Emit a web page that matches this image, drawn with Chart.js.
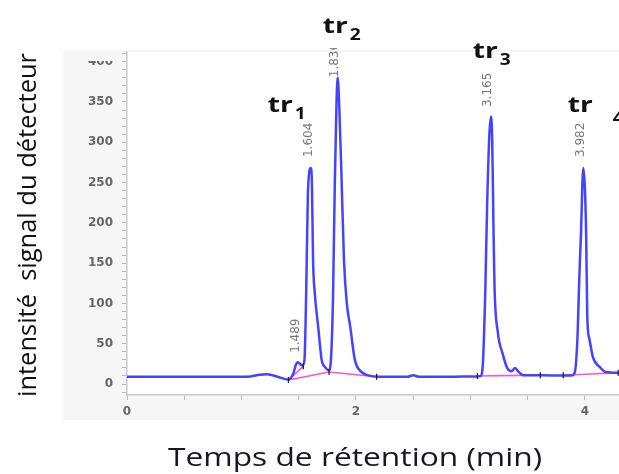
<!DOCTYPE html>
<html><head><meta charset="utf-8">
<script src="https://cdn.jsdelivr.net/npm/chart.js@4.4.1/dist/chart.umd.min.js"></script>
<style>html,body{margin:0;padding:0;background:#fff}canvas{display:block}</style>
</head><body>
<canvas id="c" width="619" height="474"></canvas>
<script>
// ---- data ----
const times  = [0,0.5,1.0,1.08,1.16,1.22,1.28,1.34,1.41,1.45,1.475,1.49,1.51,1.535,1.55,1.565,1.58,1.605,1.615,1.625,1.64,1.67,1.70,1.73,1.765,1.785,1.80,1.815,1.83,1.84,1.855,1.875,1.895,1.92,1.95,1.99,2.04,2.1,2.2,2.45,2.5,2.55,2.8,3.05,3.09,3.11,3.13,3.145,3.165,3.18,3.19,3.20,3.21,3.24,3.28,3.32,3.36,3.39,3.42,3.46,3.6,3.88,3.91,3.935,3.95,3.965,3.985,4.0,4.01,4.02,4.04,4.07,4.13,4.18,4.3];
const signal = [9,9,9,9.5,11.5,12,10.5,8,5.5,12,24,27,25,23,30,113,237,268,250,154,113,71,30,21,17,40,113,250,350,380,340,250,154,100,71,30,16,11,9,9,11,9,9,9.5,10,30,120,220,310,332,300,200,120,63,38,20,16,20,15,11,11,10.5,14,60,130,187,268,240,187,83,55,33,21,15,14];

// integration baselines (pink), null = break
const baseTimes  = [1.41,1.54,null,1.41,1.765,2.18,null,3.06,3.61,null,3.81,4.3];
const baseValues = [5,22,null,5,15,9,null,10,11,null,11,14];

// baseline start/end markers
const markTimes  = [1.41,1.54,1.765,2.18,3.06,3.61,3.81,4.29];
const markValues = [5,22,15,9,10,11,11,14];

// peak retention-time labels
const peakLabels = ['1.489','1.604','1.836','3.165','3.982'];
const peakTimes  = [1.489,1.604,1.836,3.165,3.982];
const peakLabelValues = [60,303,402,365,303];

// tr annotations
const trText   = ['tr','tr','tr','tr'];
const trSubs   = ['1','2','3','4'];
const trTimes  = [1.23,1.71,3.02,3.85];
const trValues = [338,436,405,338];

const xTitle = 'Temps de rétention (min)';
const yTitle = 'intensité  signal du détecteur';
const xTickLabels = [0,2,4];

// ---- build ----
const lineData = times.map((t,i)=>({x:t,y:signal[i]}));
const pinkData = baseTimes.map((t,i)=> t===null ? {x:NaN,y:null} : {x:t,y:baseValues[i]});
const markData = markTimes.map((t,i)=>({x:t,y:markValues[i]}));

function stretched(ctx, text, font, targetW){
  ctx.font = font;
  const w = ctx.measureText(text).width;
  return targetW ? targetW / w : 1;
}

const decor = {
  id:'decor',
  beforeDraw(chart){
    const ctx = chart.ctx, a = chart.chartArea;
    ctx.save();
    ctx.fillStyle = '#fff';
    ctx.fillRect(0,0,chart.width,chart.height);
    ctx.fillStyle = '#f6f6f6';
    ctx.fillRect(63,50,chart.width-63,370);
    ctx.fillStyle = '#fff';
    ctx.fillRect(a.left,a.top,a.right-a.left,a.bottom-a.top);
    ctx.restore();
  },
  afterDraw(chart){
    const ctx = chart.ctx, xs = chart.scales.x, ys = chart.scales.y;
    ctx.save();
    // clip top tick label like the source crop
    ctx.fillStyle = '#fff';
    ctx.fillRect(63,0,52,50);
    ctx.fillStyle = '#f6f6f6';
    ctx.fillRect(63,50,52,11);

    // peak labels (clipped at the source's top edge)
    ctx.save();
    ctx.beginPath();
    ctx.rect(0,48,chart.width,chart.height-48);
    ctx.clip();
    ctx.fillStyle = '#777';
    ctx.textAlign = 'center';
    ctx.textBaseline = 'middle';
    peakLabels.forEach((lab,i)=>{
      const px = xs.getPixelForValue(peakTimes[i]) - 2;
      const py = ys.getPixelForValue(peakLabelValues[i]);
      ctx.save();
      ctx.translate(px,py);
      ctx.rotate(-Math.PI/2);
      ctx.font = '12px "DejaVu Sans"';
      ctx.fillText(lab,0,0);
      ctx.restore();
    });
    ctx.restore();

    // tr annotations
    ctx.fillStyle = '#111';
    ctx.textAlign = 'left';
    ctx.textBaseline = 'alphabetic';
    trText.forEach((t,i)=>{
      const px = xs.getPixelForValue(trTimes[i]);
      const py = ys.getPixelForValue(trValues[i]);
      ctx.save();
      ctx.translate(px,py);
      const f = 'bold 22px "Open Sans"';
      const sx = stretched(ctx,t,f,25);
      ctx.scale(sx,1);
      ctx.fillText(t,0,0);
      const w = ctx.measureText(t).width;
      ctx.restore();
      ctx.save();
      const subX = px + w*sx + (i===3 ? 20 : 2);
      ctx.translate(subX, py + (i===3 ? 11 : 7));
      ctx.font = 'bold 16px "Open Sans"';
      ctx.scale(1.2,1);
      ctx.fillText(trSubs[i],0,0);
      ctx.restore();
    });

    // axis titles
    ctx.fillStyle = '#16162a';
    ctx.textAlign = 'center';
    ctx.save();
    ctx.translate(355,466);
    const fx = '25px "Open Sans"';
    const sxx = stretched(ctx,xTitle,fx,374);
    ctx.scale(sxx,1);
    ctx.fillText(xTitle,0,0);
    ctx.restore();

    ctx.fillStyle = '#111';
    ctx.save();
    ctx.translate(36,225);
    ctx.rotate(-Math.PI/2);
    const fy = '25px "Open Sans"';
    const syy = stretched(ctx,yTitle,fy,344);
    ctx.scale(syy,1);
    ctx.fillText(yTitle,0,0);
    ctx.restore();
    ctx.restore();
  }
};

const tickFont = {family:'"DejaVu Sans"', size:12, weight:'bold'};

new Chart(document.getElementById('c'), {
  type:'line',
  data:{datasets:[
    {data:pinkData, borderColor:'#ff4fdc', borderWidth:1.6, pointRadius:0, spanGaps:false, order:2},
    {data:lineData, borderColor:'#4444ff', borderWidth:2.5, pointRadius:0, cubicInterpolationMode:'monotone', order:1},
    {type:'scatter', data:markData, pointStyle:'line', rotation:90, radius:3, borderColor:'#222', borderWidth:1.3, order:0}
  ]},
  options:{
    responsive:false, animation:false, devicePixelRatio:1,
    layout:{autoPadding:false, padding:{left:0,right:0,top:52,bottom:54}},
    plugins:{legend:{display:false}, tooltip:{enabled:false}},
    scales:{
      x:{type:'linear', min:0, max:4.297,
        afterBuildTicks:s=>{s.ticks=s.ticks.filter(t=>Math.abs(t.value*2-Math.round(t.value*2))<1e-6 && t.value<=4.297);},
        afterFit:s=>{s.height=25; s.paddingLeft=0; s.paddingRight=0;},
        ticks:{stepSize:0.5, includeBounds:false, autoSkip:false, maxRotation:0, padding:5, color:'#666', font:tickFont,
          callback:v=> xTickLabels.some(k=>Math.abs(k-v)<1e-6) ? String(Math.round(v)) : ''},
        grid:{drawOnChartArea:false, drawTicks:true, tickLength:5, tickColor:'#bbb'},
        border:{color:'#c8c8c8', width:1.5}
      },
      y:{type:'linear', min:-13.6, max:412,
        afterBuildTicks:s=>{s.ticks=s.ticks.filter(t=>Math.abs(t.value/10-Math.round(t.value/10))<1e-6);},
        afterFit:s=>{s.width=127; s.paddingTop=0; s.paddingBottom=0;},
        ticks:{stepSize:10, includeBounds:false, autoSkip:false, padding:9, color:'#666', font:tickFont,
          callback:v=> (Math.round(v)%50===0) ? String(Math.round(v)) : ''},
        grid:{drawOnChartArea:false, drawTicks:true, tickLength:5, tickColor:'#bbb'},
        border:{color:'#c8c8c8', width:1.5}
      }
    }
  },
  plugins:[decor]
});
</script>
</body></html>
